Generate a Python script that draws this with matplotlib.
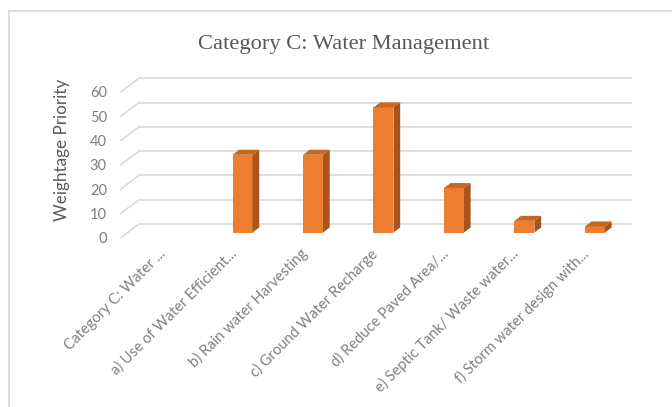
import numpy as np
import matplotlib
matplotlib.use("Agg")
import matplotlib.pyplot as plt
from matplotlib.patches import Polygon
from matplotlib.lines import Line2D
from matplotlib.transforms import ScaledTranslation

# datos
categorias = [
    "Category C: Water ...",
    "a) Use of Water Efficient...",
    "b) Rain water Harvesting",
    "c) Ground Water Recharge",
    "d) Reduce Paved Area/...",
    "e) Septic Tank/ Waste water...",
    "f) Storm water design with...",
]
valores = [0, 32, 32, 51.5, 18.3, 4.8, 2.5]
ticks_y = [0, 10, 20, 30, 40, 50, 60]

titulo = "Category C: Water Management"
etiqueta_y = "Weightage Priority"

# colores tipo Excel
naranja = "#ED7D31"
naranja_top = "#C8671F"
naranja_lado = "#A9541C"
gris_grid = "#d9d9d9"

# desplazamientos de la perspectiva (en unidades de datos)
fondo_dy = 3.5      # pared del fondo por encima del plano de barras
frente_dy = -2.14   # plano frontal (etiquetas) por debajo
fondo_x0, fondo_x1 = -0.47, 6.53
frente_x0 = -0.727
ancho = 0.284
prof_dx, prof_dy = 0.095, 2.06

fig = plt.figure(figsize=(6.72, 4.07), dpi=100)
ax = fig.add_axes([120.8 / 672, 1 - 237.7 / 407, (637.2 - 120.8) / 672, (237.7 - 78) / 407])
ax.set_xlim(frente_x0, 6.6)
ax.set_ylim(frente_dy, 63.6)

# rejilla del fondo y diagonales del suelo/pared lateral
for v in ticks_y:
    ax.plot([fondo_x0, fondo_x1], [v + fondo_dy, v + fondo_dy], color=gris_grid, lw=1.2,
            solid_capstyle="butt", zorder=1, clip_on=False)
    ax.plot([frente_x0, fondo_x0], [v + frente_dy, v + fondo_dy], color=gris_grid, lw=1.2,
            zorder=1, clip_on=False)

# barras 3D (frente, tapa y lado)
for i, v in enumerate(valores):
    if v <= 0:
        continue
    x0 = i - ancho / 2
    x1 = i + ancho / 2
    ax.bar(i, v, width=ancho, color=naranja, zorder=3, linewidth=0)
    tapa = Polygon([(x0, v), (x1, v), (x1 + prof_dx, v + prof_dy), (x0 + prof_dx, v + prof_dy)],
                   closed=True, facecolor=naranja_top, edgecolor="none", zorder=3, clip_on=False)
    lado = Polygon([(x1, 0), (x1 + prof_dx, prof_dy), (x1 + prof_dx, v + prof_dy), (x1, v)],
                   closed=True, facecolor=naranja_lado, edgecolor="none", zorder=3, clip_on=False)
    ax.add_patch(tapa)
    ax.add_patch(lado)

# ejes
for s in ax.spines.values():
    s.set_visible(False)
ax.set_yticks([v + frente_dy for v in ticks_y], labels=[str(v) for v in ticks_y])
ax.tick_params(axis="y", length=0, pad=10, labelsize=10.5, labelcolor="#7f7f7f")
for t in ax.get_yticklabels():
    t.set_family("Lato")

ax.set_xticks(range(len(categorias)))
ax.set_xticklabels(categorias, rotation=45, ha="right", va="center", rotation_mode="anchor",
                   fontsize=10.6, color="#7f7f7f", family="Lato")
ax.tick_params(axis="x", length=0, pad=10)
desplazar = ScaledTranslation(-8 / 100, 0, fig.dpi_scale_trans)
for t in ax.get_xticklabels():
    t.set_transform(t.get_transform() + desplazar)

ax.set_ylabel(etiqueta_y, fontsize=12.3, color="#595959", family="Lato")
ax.yaxis.set_label_coords(-0.098, 0.55)

fig.text(344 / 672, 1 - 45 / 407, titulo, ha="center", va="center", fontsize=16.2,
         color="#595959", family="Liberation Serif")

# borde del area del grafico
fig.add_artist(Line2D([9 / 672, 1], [1 - 10.5 / 407, 1 - 10.5 / 407], color=gris_grid, lw=1.2))
fig.add_artist(Line2D([9 / 672, 9 / 672], [0, 1 - 10.5 / 407], color=gris_grid, lw=1.2))

fig.savefig("out.png", dpi=100)
